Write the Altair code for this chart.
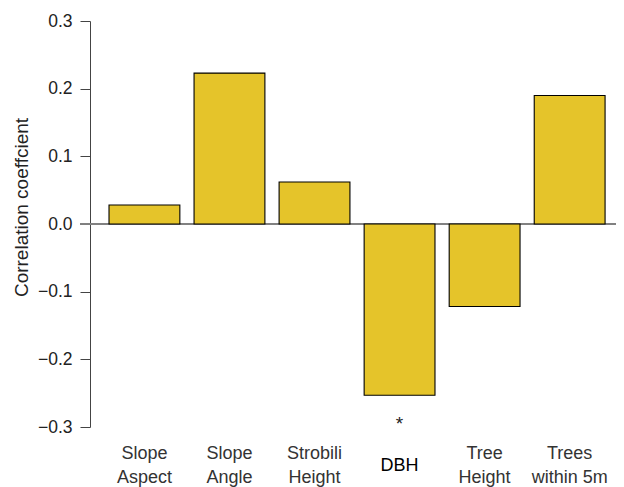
import altair as alt
import pandas as pd

categories = ["Slope\nAspect", "Slope\nAngle", "Strobili\nHeight", "DBH", "Tree\nHeight", "Trees\nwithin 5m"]
values = [0.028, 0.223, 0.062, -0.253, -0.122, 0.190]
marks = ["", "", "", "*", "", ""]
y_ticks = [-0.3, -0.2, -0.1, 0.0, 0.1, 0.2, 0.3]

df = pd.DataFrame({"var": categories, "r": values, "sig": marks})

FONT = "Liberation Sans"
W = 526

x = alt.X(
    "var:N",
    sort=categories,
    title=None,
    scale=alt.Scale(paddingInner=0.167, paddingOuter=0.176, align=0.635),
    axis=alt.Axis(
        domain=False, ticks=False, tickSize=0, labelAngle=0,
        labelExpr="split(datum.label, '\\n')",
        labelFont=FONT, labelFontSize=18, labelLineHeight=24,
        labelBaseline={"expr": "datum.value == 'DBH' ? 'line-top' : 'middle'"},
        labelPadding=26,
        labelColor={"expr": "datum.value == 'DBH' ? '#000000' : '#333333'"},
    ),
)
y = alt.Y(
    "r:Q",
    title="Correlation coeffcient",
    scale=alt.Scale(domain=[-0.3, 0.3], nice=False, zero=False),
    axis=alt.Axis(
        values=y_ticks, format=".1f", grid=False,
        domainColor="#444444", tickColor="#444444", tickSize=10,
        labelFont=FONT, labelFontSize=17.5, labelColor="#222222", labelPadding=8,
        titleFont=FONT, titleFontSize=19, titleFontWeight="normal", titleColor="#222222",
        titleX=-63, titleY=186, titleBaseline="alphabetic", titleAngle=-90,
    ),
)

zero = alt.Chart(df).mark_rule(color="#808080", strokeWidth=1.2).encode(
    y=alt.datum(0), x=alt.value(-10), x2=alt.value(W)
)
bars = alt.Chart(df).mark_bar(color="#E5C42A", stroke="#000000", strokeWidth=1.1).encode(
    x=x, y=y, y2=alt.datum(0)
)
stars = alt.Chart(df).mark_text(font=FONT, fontSize=19, baseline="middle", dy=29, color="#222222").encode(
    x=alt.X("var:N", sort=categories), y="r:Q", text="sig:N"
)

chart = alt.layer(zero, bars, stars).properties(
    width=W, height=406,
    padding={"left": 82, "top": 13, "right": 0, "bottom": 60},
    autosize=alt.AutoSizeParams(type="none"),
).configure_view(stroke=None)

chart.save("out.html", embed_options={"renderer": "svg", "actions": False})
